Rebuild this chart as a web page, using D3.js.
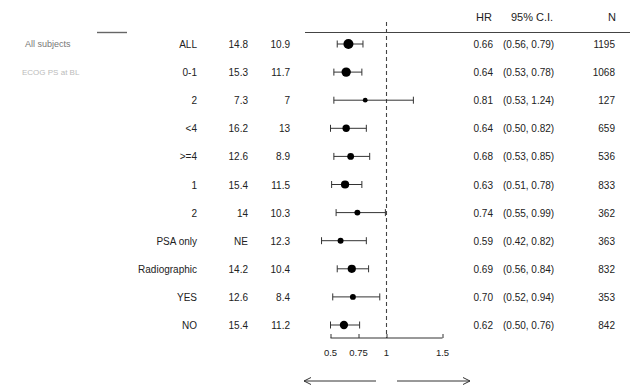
<!DOCTYPE html>
<html>
<head>
<meta charset="utf-8">
<script src="https://cdn.jsdelivr.net/npm/d3@7"></script>
<style>
  body { margin: 0; background: #fff; }
  text { font-family: "Liberation Sans", Arial, sans-serif; fill: #222; }
</style>
</head>
<body>
<div id="forest"></div>
<script>

// values
var groups = ["ALL", "0-1", "2", "<4", ">=4", "1", "2", "PSA only", "Radiographic", "YES", "NO"];
var medA   = ["14.8", "15.3", "7.3", "16.2", "12.6", "15.4", "14", "NE", "14.2", "12.6", "15.4"];
var medB   = ["10.9", "11.7", "7", "13", "8.9", "11.5", "10.3", "12.3", "10.4", "8.4", "11.2"];
var hr     = [0.66, 0.64, 0.81, 0.64, 0.68, 0.63, 0.74, 0.59, 0.69, 0.70, 0.62];
var lower  = [0.56, 0.53, 0.53, 0.50, 0.53, 0.51, 0.55, 0.42, 0.56, 0.52, 0.50];
var upper  = [0.79, 0.78, 1.24, 0.82, 0.85, 0.78, 0.99, 0.82, 0.84, 0.94, 0.76];
var counts = [1195, 1068, 127, 659, 536, 833, 362, 363, 832, 353, 842];
var ticks  = [0.5, 0.75, 1, 1.5];

function init() {

	var width = 630;
	var height = 391;

	var svg = d3.select("div#forest")
		.append("svg")
		.attr("width", width)
		.attr("height", height);

	var x = d3.scaleLinear()
		.domain([0.5, 1.5])
		.range([330.5, 442.5]);

	var y = d3.scaleLinear()
		.domain([0, groups.length - 1])
		.range([44, 325]);

	var r = d3.scaleLinear()
		.domain([127, 1195])
		.range([2.4, 5]);

	// header
	svg.append("text").attr("x", 492).attr("y", 21).attr("text-anchor", "end")
		.style("font-size", "11px").text("HR");
	svg.append("text").attr("x", 532).attr("y", 21).attr("text-anchor", "middle")
		.style("font-size", "11px").text("95% C.I.");
	svg.append("text").attr("x", 616).attr("y", 21).attr("text-anchor", "end")
		.style("font-size", "11px").text("N");

	svg.append("line")
		.attr("x1", 305).attr("x2", 630).attr("y1", 32.5).attr("y2", 32.5)
		.style("stroke", "#444").style("stroke-width", 1.2);
	svg.append("line")
		.attr("x1", 97).attr("x2", 127).attr("y1", 32.5).attr("y2", 32.5)
		.style("stroke", "#666").style("stroke-width", 1.4);

	// faded left labels
	svg.append("text").attr("x", 25).attr("y", 47)
		.style("font-size", "9px").style("fill", "#777").text("All subjects");
	svg.append("text").attr("x", 22).attr("y", 75)
		.style("font-size", "8px").style("fill", "#bbb").text("ECOG PS at BL");

	// reference line at HR = 1
	svg.append("line")
		.attr("x1", x(1)).attr("x2", x(1)).attr("y1", 22).attr("y2", 338)
		.style("stroke", "#444").style("stroke-width", 1.1)
		.style("stroke-dasharray", "4,3");

	var rows = svg.selectAll("g.row")
		.data(groups)
		.enter()
		.append("g")
		.attr("class", "row")
		.attr("transform", function(d, i) { return "translate(0," + y(i) + ")"; });

	rows.append("text").attr("x", 197).attr("y", 4).attr("text-anchor", "end")
		.style("font-size", "10px").text(function(d) { return d; });
	rows.append("text").attr("x", 248).attr("y", 4).attr("text-anchor", "end")
		.style("font-size", "10px").text(function(d, i) { return medA[i]; });
	rows.append("text").attr("x", 290).attr("y", 4).attr("text-anchor", "end")
		.style("font-size", "10px").text(function(d, i) { return medB[i]; });

	// CI bars
	rows.append("line")
		.attr("x1", function(d, i) { return x(lower[i]); })
		.attr("x2", function(d, i) { return x(upper[i]); })
		.style("stroke", "#333").style("stroke-width", 1);
	rows.append("line")
		.attr("x1", function(d, i) { return x(lower[i]); })
		.attr("x2", function(d, i) { return x(lower[i]); })
		.attr("y1", -3.5).attr("y2", 3.5)
		.style("stroke", "#333").style("stroke-width", 1);
	rows.append("line")
		.attr("x1", function(d, i) { return x(upper[i]); })
		.attr("x2", function(d, i) { return x(upper[i]); })
		.attr("y1", -3.5).attr("y2", 3.5)
		.style("stroke", "#333").style("stroke-width", 1);
	rows.append("circle")
		.attr("cx", function(d, i) { return x(hr[i]); })
		.attr("r", function(d, i) { return r(counts[i]); })
		.style("fill", "#000");

	rows.append("text").attr("x", 493).attr("y", 4).attr("text-anchor", "end")
		.style("font-size", "10px").text(function(d, i) { return hr[i].toFixed(2); });
	rows.append("text").attr("x", 503).attr("y", 4)
		.style("font-size", "10px")
		.text(function(d, i) { return "(" + lower[i].toFixed(2) + ", " + upper[i].toFixed(2) + ")"; });
	rows.append("text").attr("x", 615).attr("y", 4).attr("text-anchor", "end")
		.style("font-size", "10px").text(function(d, i) { return counts[i]; });

	// axis
	var axis = svg.append("g")
		.attr("transform", "translate(0,338)")
		.call(d3.axisTop(x).tickValues(ticks).tickSize(4)
			.tickFormat(function(d) { return String(d); }));
	axis.select(".domain").remove();
	axis.selectAll("line").style("stroke", "#333");
	axis.selectAll("text").remove();
	axis.append("line")
		.attr("x1", x(0.5)).attr("x2", x(1.5))
		.style("stroke", "#333").style("stroke-width", 1);

	svg.selectAll("text.tick-label")
		.data(ticks)
		.enter()
		.append("text")
		.attr("class", "tick-label")
		.attr("x", function(d) { return x(d); })
		.attr("y", 356)
		.attr("text-anchor", "middle")
		.style("font-size", "9.5px")
		.text(function(d) { return String(d); });

	// direction arrows
	var arrow = d3.line();
	svg.append("path")
		.attr("d", arrow([[376, 381], [304, 381]]) + arrow([[311, 377.5], [304, 381], [311, 384.5]]))
		.style("fill", "none").style("stroke", "#333").style("stroke-width", 1);
	svg.append("path")
		.attr("d", arrow([[397, 381], [470, 381]]) + arrow([[463, 377.5], [470, 381], [463, 384.5]]))
		.style("fill", "none").style("stroke", "#333").style("stroke-width", 1);
}

init();
</script>
</body>
</html>
